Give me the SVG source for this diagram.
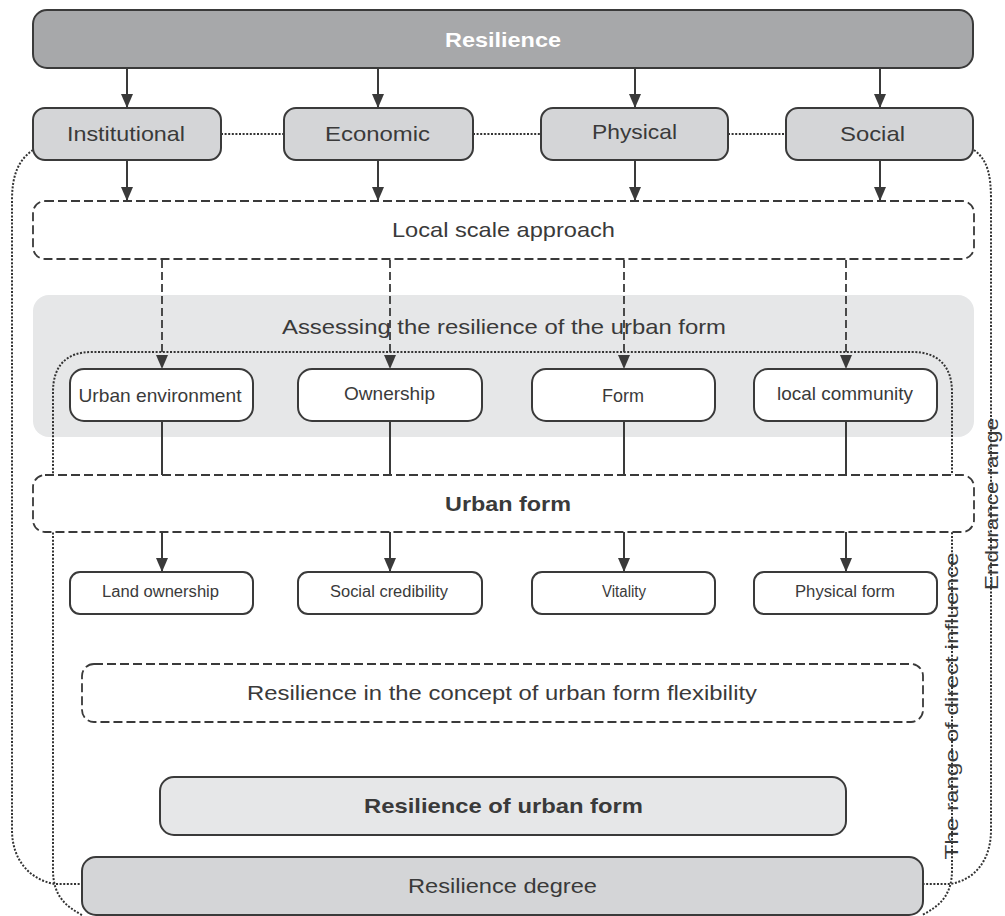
<svg xmlns="http://www.w3.org/2000/svg" width="1005" height="916" viewBox="0 0 1005 916">
<style>
text{font-family:"Liberation Sans",Arial,sans-serif;fill:#3a3a3a;text-anchor:middle}
.box{stroke:#3a3a3a;stroke-width:2}
.dash{fill:#fff;stroke:#3a3a3a;stroke-width:1.8;stroke-dasharray:9 4}
.dot{fill:none;stroke:#333;stroke-width:2;stroke-dasharray:2 1.6}
.ln{fill:none;stroke:#3a3a3a;stroke-width:2}
.dl{fill:none;stroke:#3a3a3a;stroke-width:1.8;stroke-dasharray:8 4}
.dark{fill:#a7a8aa}.mid{fill:#d4d5d7}.light{fill:#e6e7e8}.white{fill:#fff}
.t21{font-size:21px}.t19{font-size:19px}.t16{font-size:16px}.b{font-weight:bold}
</style>
<defs>
<marker id="ah" markerUnits="userSpaceOnUse" viewBox="0 0 14 12" markerWidth="14" markerHeight="12" refX="14" refY="6" orient="auto">
<path d="M0,0 L14,6 L0,12 z" fill="#3a3a3a"/>
</marker>
</defs>

<g id="panel-assessing">
<rect x="33" y="295" width="941" height="142" rx="16" fill="#e6e7e8"/>
<text class="t21" x="504" y="334" textLength="444" lengthAdjust="spacingAndGlyphs">Assessing the resilience of the urban form</text>
</g>

<g id="ranges">
<path class="dot" d="M33,150 C18,160 12,176 12,200 L12,830 C12,860 30,880 55,884 L82,884"/>
<path class="dot" d="M974,150 C988,160 991,176 991,200 L991,830 C991,860 975,880 950,884 L923,884"/>
<path class="dot" d="M82,915 C65,906 53,895 53,870 L53,392 C53,366 66,352 92,352 L912,352 C938,352 952,366 952,392 L952,870 C952,895 940,906 922,915"/>
<text class="t19" transform="translate(992,504) rotate(-90)" x="0" y="6" textLength="172" lengthAdjust="spacingAndGlyphs">Endurance range</text>
<text class="t19" transform="translate(952,706) rotate(-90)" x="0" y="6" textLength="307" lengthAdjust="spacingAndGlyphs">The range of direct influence</text>
</g>

<g id="connectors">
<line class="ln" x1="127" y1="68" x2="127" y2="108" marker-end="url(#ah)"/>
<line class="ln" x1="378" y1="68" x2="378" y2="108" marker-end="url(#ah)"/>
<line class="ln" x1="635" y1="68" x2="635" y2="108" marker-end="url(#ah)"/>
<line class="ln" x1="880" y1="68" x2="880" y2="108" marker-end="url(#ah)"/>
<line class="dot" x1="221" y1="134" x2="284" y2="134"/>
<line class="dot" x1="473" y1="134" x2="541" y2="134"/>
<line class="dot" x1="728" y1="134" x2="786" y2="134"/>
<line class="ln" x1="127" y1="160" x2="127" y2="201" marker-end="url(#ah)"/>
<line class="ln" x1="378" y1="160" x2="378" y2="201" marker-end="url(#ah)"/>
<line class="ln" x1="635" y1="160" x2="635" y2="201" marker-end="url(#ah)"/>
<line class="ln" x1="880" y1="160" x2="880" y2="201" marker-end="url(#ah)"/>
<line class="dl" x1="162" y1="260" x2="162" y2="369" marker-end="url(#ah)"/>
<line class="dl" x1="390" y1="260" x2="390" y2="369" marker-end="url(#ah)"/>
<line class="dl" x1="624" y1="260" x2="624" y2="369" marker-end="url(#ah)"/>
<line class="dl" x1="846" y1="260" x2="846" y2="369" marker-end="url(#ah)"/>
<line class="ln" x1="162" y1="421" x2="162" y2="476"/>
<line class="ln" x1="390" y1="421" x2="390" y2="476"/>
<line class="ln" x1="624" y1="421" x2="624" y2="476"/>
<line class="ln" x1="846" y1="421" x2="846" y2="476"/>
<line class="ln" x1="162" y1="532" x2="162" y2="572" marker-end="url(#ah)"/>
<line class="ln" x1="390" y1="532" x2="390" y2="572" marker-end="url(#ah)"/>
<line class="ln" x1="624" y1="532" x2="624" y2="572" marker-end="url(#ah)"/>
<line class="ln" x1="846" y1="532" x2="846" y2="572" marker-end="url(#ah)"/>
</g>

<g id="resilience">
<rect class="box dark" x="33" y="10" width="940" height="58" rx="14"/>
<text class="t21 b" x="503" y="47" style="fill:#fff" textLength="116" lengthAdjust="spacingAndGlyphs">Resilience</text>
</g>

<g id="institutional">
<rect class="box mid" x="33" y="108" width="188" height="52" rx="12"/>
<text class="t21" x="126" y="141" textLength="118" lengthAdjust="spacingAndGlyphs">Institutional</text>
</g>
<g id="economic">
<rect class="box mid" x="284" y="108" width="189" height="52" rx="12"/>
<text class="t21" x="377.5" y="141" textLength="105" lengthAdjust="spacingAndGlyphs">Economic</text>
</g>
<g id="physical">
<rect class="box mid" x="541" y="108" width="187" height="52" rx="12"/>
<text class="t21" x="634.5" y="139" textLength="85" lengthAdjust="spacingAndGlyphs">Physical</text>
</g>
<g id="social">
<rect class="box mid" x="786" y="108" width="187" height="52" rx="12"/>
<text class="t21" x="872.5" y="141" textLength="65" lengthAdjust="spacingAndGlyphs">Social</text>
</g>

<g id="local-scale">
<rect class="dash" x="33" y="201" width="941" height="58" rx="12"/>
<text class="t21" x="503.5" y="237" textLength="223" lengthAdjust="spacingAndGlyphs">Local scale approach</text>
</g>

<g id="urban-environment">
<rect class="box white" x="70" y="369" width="183" height="52" rx="14"/>
<text class="t19" x="160" y="402" textLength="163" lengthAdjust="spacingAndGlyphs">Urban environment</text>
</g>
<g id="ownership">
<rect class="box white" x="298" y="369" width="184" height="52" rx="14"/>
<text class="t19" x="389.5" y="400" textLength="91" lengthAdjust="spacingAndGlyphs">Ownership</text>
</g>
<g id="form">
<rect class="box white" x="532" y="369" width="183" height="52" rx="14"/>
<text class="t19" x="623" y="402" textLength="42" lengthAdjust="spacingAndGlyphs">Form</text>
</g>
<g id="local-community">
<rect class="box white" x="754" y="369" width="183" height="52" rx="14"/>
<text class="t19" x="845" y="400" textLength="136" lengthAdjust="spacingAndGlyphs">local community</text>
</g>

<g id="urban-form">
<rect class="dash" x="33" y="475" width="941" height="57" rx="12"/>
<text class="t21 b" x="508" y="511" textLength="126" lengthAdjust="spacingAndGlyphs">Urban form</text>
</g>

<g id="land-ownership">
<rect class="box white" x="70" y="572" width="183" height="42" rx="10"/>
<text class="t16" x="160.5" y="597" textLength="117" lengthAdjust="spacingAndGlyphs">Land ownership</text>
</g>
<g id="social-credibility">
<rect class="box white" x="298" y="572" width="184" height="42" rx="10"/>
<text class="t16" x="389" y="597" textLength="118" lengthAdjust="spacingAndGlyphs">Social credibility</text>
</g>
<g id="vitality">
<rect class="box white" x="532" y="572" width="183" height="42" rx="10"/>
<text class="t16" x="624" y="597" textLength="44" lengthAdjust="spacingAndGlyphs">Vitality</text>
</g>
<g id="physical-form">
<rect class="box white" x="754" y="572" width="183" height="42" rx="10"/>
<text class="t16" x="845" y="597" textLength="100" lengthAdjust="spacingAndGlyphs">Physical form</text>
</g>

<g id="flexibility">
<rect class="dash" x="82" y="664" width="841" height="58" rx="12"/>
<text class="t21" x="502" y="700" textLength="510" lengthAdjust="spacingAndGlyphs">Resilience in the concept of urban form flexibility</text>
</g>

<g id="resilience-of-urban-form">
<rect class="box light" x="160" y="777" width="686" height="58" rx="14"/>
<text class="t21 b" x="503.5" y="813" textLength="279" lengthAdjust="spacingAndGlyphs">Resilience of urban form</text>
</g>

<g id="resilience-degree">
<rect class="box mid" x="82" y="857" width="841" height="58" rx="14"/>
<text class="t21" x="502.5" y="893" textLength="189" lengthAdjust="spacingAndGlyphs">Resilience degree</text>
</g>
</svg>
